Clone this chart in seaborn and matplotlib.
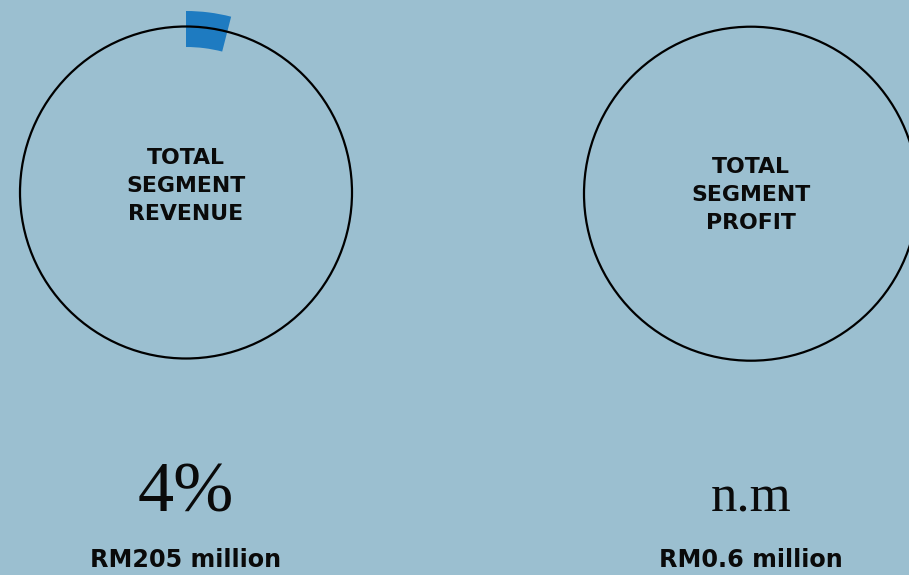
import matplotlib
matplotlib.use("Agg")
import matplotlib.pyplot as plt
from matplotlib.patches import Circle, Wedge
import seaborn as sns

# Segment figures
panel_titles = ["TOTAL\nSEGMENT\nREVENUE", "TOTAL\nSEGMENT\nPROFIT"]
share_pct = [4.0, None]          # share of the group total; None = not meaningful
share_labels = ["4%", "n.m"]
amount_labels = ["RM205 million", "RM0.6 million"]

BG = "#9bbfd0"
ARC = "#1e7bc1"

sns.set_theme(style="white", rc={"figure.facecolor": BG, "axes.facecolor": BG})
plt.rcParams["font.family"] = ["DejaVu Sans"]

W, H = 909, 575
fig = plt.figure(figsize=(W / 100, H / 100), dpi=100)
ax = fig.add_axes([0, 0, 1, 1])
ax.set_xlim(0, W)
ax.set_ylim(0, H)
ax.set_aspect("equal")
ax.axis("off")

centers = [(186, H - 192.5), (751, H - 193.7)]
radii = [166, 167]
title_y = [H - 186, H - 195]

for i, (cx, cy) in enumerate(centers):
    r = radii[i]
    ax.add_patch(Circle((cx, cy), r, fill=False, lw=1.6, ec="black", zorder=2))
    pct = share_pct[i]
    if pct is not None:
        sweep = 360 * pct / 100
        ax.add_patch(Wedge((cx, cy), r + 15.5, 90 - sweep, 90, width=36,
                           fc=ARC, ec="none", zorder=1))
    ax.text(cx, title_y[i], panel_titles[i], ha="center", va="center",
            fontsize=15.8, fontweight="bold", color="#0a0a0a",
            linespacing=1.5)
    ax.text(cx, H - 512, share_labels[i], ha="center", va="baseline",
            fontsize=52 if pct is not None else 38,
            family=["Liberation Serif"], color="#0a0a0a")
    ax.text(cx, H - 560, amount_labels[i], ha="center", va="center",
            fontsize=17.2, fontweight="bold", color="#0a0a0a")

fig.savefig("out.png", dpi=100, facecolor=BG)
